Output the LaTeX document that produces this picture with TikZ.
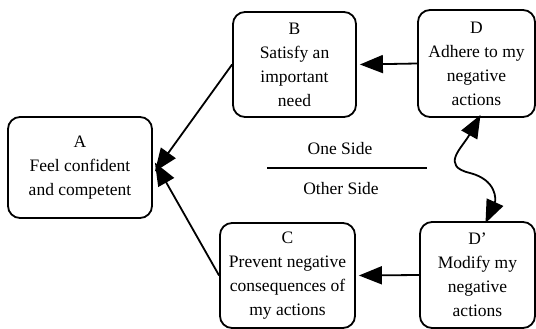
\documentclass[tikz,border=0pt]{standalone}
\usepackage{fontspec}
\setmainfont{Liberation Serif}
\usetikzlibrary{arrows.meta}
\tikzset{
  box/.style={draw, line width=1.8pt, rounded corners=12pt, align=center, inner sep=0pt,
    font=\fontsize{17.5}{24}\selectfont},
  tip/.style={Triangle[length=23pt,width=18pt]},
  conn/.style={line width=1.8pt, -{Triangle[length=23pt,width=18pt]}},
  lbl/.style={font=\fontsize{17.5}{24}\selectfont, inner sep=0pt}
}
\begin{document}
\begin{tikzpicture}[x=1pt,y=-1pt]
\useasboundingbox (0,0) rectangle (536,329);
\node[box, minimum width=144pt, minimum height=101pt] (A) at (80,167.5) {A\\Feel confident\\and competent};
\node[box, minimum width=123pt, minimum height=105pt] (B) at (294.5,64.5) {B\\Satisfy an\\important\\need};
\node[box, minimum width=117pt, minimum height=107pt] (D) at (476.5,63.5) {D\\Adhere to my\\negative\\actions};
\node[box, minimum width=135pt, minimum height=105pt] (C) at (287.5,275.5) {C\\Prevent negative\\consequences of\\my actions};
\node[box, minimum width=115pt, minimum height=106pt] (Dp) at (477.5,275) {D'\\Modify my\\negative\\actions};
\coordinate (L1) at (267,168);
\coordinate (L2) at (427,168);
\draw[line width=1.8pt] (L1) -- (L2);
\node[lbl] (one) at (340,149) {One Side};
\node[lbl] (other) at (341,189) {Other Side};
\draw[conn] (B.west) -- ([xshift=2pt,yshift=-4pt]A.east);
\draw[conn] (C.west) -- ([xshift=2pt,yshift=5pt]A.east);
\draw[conn] (D.west) -- ([xshift=3pt]B.east);
\draw[conn] (Dp.west) -- ([xshift=3pt]C.east);
\draw[line width=1.8pt, {Triangle[length=23pt,width=18pt]}-{Triangle[length=23pt,width=18pt]}]
  ([xshift=4pt,yshift=3pt]D.south) .. controls (462,148) and (440,166) .. (470,173)
  .. controls (497,180) and (496,200) .. ([xshift=8pt,yshift=-2pt]Dp.north);
\end{tikzpicture}
\end{document}
